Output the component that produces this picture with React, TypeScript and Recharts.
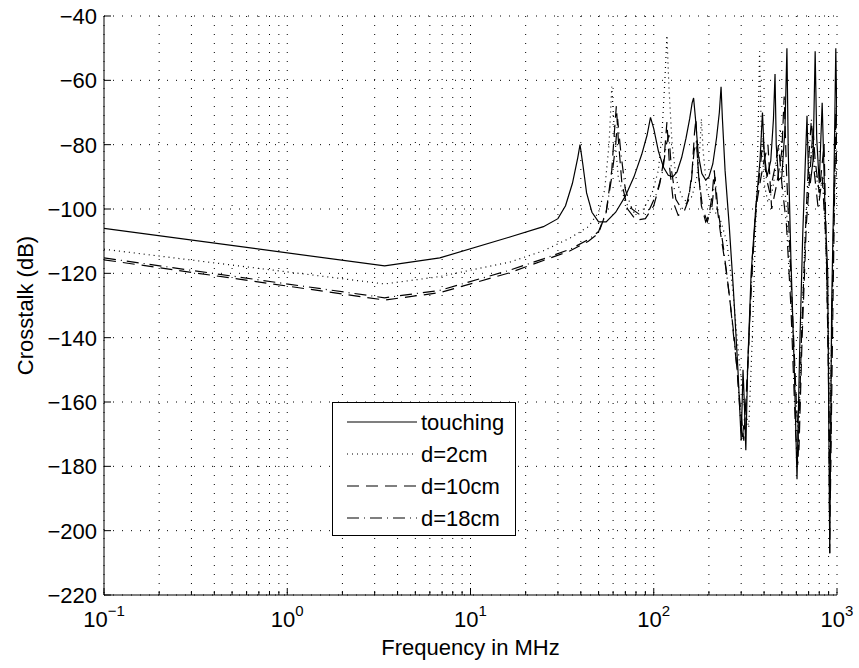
import { LineChart, Line, XAxis, YAxis, CartesianGrid, Legend } from 'recharts'

const FONT = '"Liberation Sans", Arial, Helvetica, sans-serif'
const FS = 22

// frequency in MHz / crosstalk in dB, one pair of arrays per cable spacing
const touchingFreq = [
  0.1, 3.4, 6.8, 16.4, 25, 30, 33, 36, 38.5, 39.6, 41, 43, 46, 50, 55, 62, 70, 78, 86, 92, 96, 100, 106, 113,
  120, 127, 134, 142, 150, 157, 162, 165, 169, 175, 183, 192, 200, 210, 220, 228, 233, 237, 245, 258, 272,
  288, 300, 307, 312, 318, 325, 340, 360, 380, 392, 400, 415, 435, 450, 459, 466, 480, 500, 520, 533, 542,
  560, 585, 605, 625, 650, 672, 686, 698, 715, 740, 760, 775, 800, 830, 860, 890, 913, 935, 960, 985, 1000,
]
const touchingDb = [
  -106, -117.7, -115.2, -108.7, -105.5, -103, -99, -92, -84, -80, -86, -95, -101, -104, -104, -101, -96, -90,
  -83, -77, -71.5, -75, -82, -87, -89.5, -90, -88.5, -84, -78, -72, -67, -65.5, -72, -83, -89, -91, -90, -86,
  -78, -70, -62, -72, -88, -105, -125, -150, -172, -150, -160, -175, -150, -120, -100, -85, -70, -82, -90,
  -85, -72, -58, -80, -91, -90, -75, -50, -82, -115, -150, -184, -145, -108, -85, -71, -88, -92, -85, -51,
  -78, -92, -67, -100, -120, -207, -130, -95, -50, -75,
]

const d2Freq = [
  0.1, 3.4, 6.8, 16.4, 25, 35, 44, 50, 54, 57, 59, 61, 64, 70, 78, 88, 98, 106, 111, 115, 118, 121, 126, 133,
  142, 152, 162, 172, 178, 182, 186, 195, 210, 230, 250, 270, 290, 310, 330, 345, 358, 370, 378, 386, 400,
  420, 445, 470, 490, 505, 530, 560, 590, 615, 640, 670, 700, 730, 760, 800, 840, 880, 920, 950, 980, 1000,
]
const d2Db = [
  -112.5, -123.3, -121, -116.5, -113, -109, -105.5, -101, -94, -80, -62, -76, -90, -98, -101, -100, -95, -88,
  -76, -60, -46, -62, -80, -91, -96, -98, -96, -90, -82, -72, -82, -94, -100, -103, -110, -125, -145, -160,
  -168, -140, -110, -80, -51, -75, -92, -98, -94, -85, -75, -85, -100, -125, -155, -170, -140, -108, -90,
  -80, -88, -95, -90, -120, -160, -120, -80, -100,
]

const d10Freq = [
  0.1, 3.4, 6.8, 16.4, 25, 35, 44, 50, 55, 59, 61, 62.5, 64, 67, 72, 80, 90, 100, 108, 114, 118, 122, 128,
  136, 146, 155, 162, 167, 170, 174, 182, 192, 200, 208, 214, 220, 232, 250, 275, 295, 310, 325, 345, 365,
  385, 400, 420, 440, 470, 500, 515, 530, 560, 600, 620, 645, 680, 710, 740, 760, 800, 850, 880, 920, 950,
  985, 1000,
]
const d10Db = [
  -115.8, -128.3, -126, -119.8, -116, -113, -110, -107.5, -101, -88, -76, -68, -78, -92, -100, -103.5, -103,
  -99, -92, -84, -73, -87, -98, -102, -101, -97, -88, -76, -72, -86, -99, -104, -102, -96, -88, -98, -108,
  -120, -140, -160, -172, -150, -115, -98, -90, -85, -80, -100, -92, -82, -65, -88, -120, -160, -175, -140,
  -105, -90, -75, -85, -95, -80, -120, -190, -130, -70, -90,
]

const d18Freq = [
  0.1, 3.4, 6.8, 16.4, 25, 35, 44, 50, 55, 59, 62, 63.5, 66, 70, 76, 85, 95, 104, 112, 117, 121, 125, 132,
  142, 152, 160, 166, 171, 176, 185, 196, 208, 216, 224, 240, 260, 285, 303, 320, 340, 360, 380, 395, 410,
  430, 455, 480, 500, 530, 560, 595, 612, 640, 680, 700, 725, 750, 790, 830, 870, 900, 913, 930, 960, 990,
  1000,
]
const d18Db = [
  -115.2, -127.6, -125.3, -119, -115.5, -112.5, -109.5, -107, -101, -90, -80, -72, -82, -94, -100, -102, -100,
  -95, -88, -80, -77, -88, -97, -100, -98, -92, -82, -79, -90, -100, -104, -99, -90, -100, -112, -128, -150,
  -172, -160, -125, -100, -88, -78, -90, -95, -88, -80, -92, -105, -130, -170, -180, -140, -100, -85, -72,
  -88, -100, -90, -110, -150, -207, -150, -100, -68, -85,
]

const seriesNames = ['touching', 'd=2cm', 'd=10cm', 'd=18cm']
const seriesDash = ['', '1 4', '12 7', '12 5 1 5']

const xTicks = [0.1, 1, 10, 100].flatMap((d) => [1, 2, 3, 4, 5, 6, 7, 8, 9].map((k) => d * k)).concat(1000)
const yTicks = [-220, -200, -180, -160, -140, -120, -100, -80, -60, -40]

const toRows = (f: number[], db: number[]) => f.map((v, i) => ({ f: v, db: db[i] }))
const series = [
  toRows(touchingFreq, touchingDb),
  toRows(d2Freq, d2Db),
  toRows(d10Freq, d10Db),
  toRows(d18Freq, d18Db),
]

const isDecade = (v: number) => Math.abs(Math.log10(v) - Math.round(Math.log10(v))) < 1e-6
const minus = (s: string) => s.replace('-', '\u2212')

function BottomTick(props: any) {
  const { x, y, payload } = props
  const major = isDecade(payload.value)
  const exp = Math.round(Math.log10(payload.value))
  return (
    <g>
      <line x1={x} x2={x} y1={y} y2={y - (major ? 7 : 4)} stroke="#000" />
      {major && (
        <text x={x} y={y + 32} textAnchor="middle" fontSize={FS} fontFamily={FONT} fill="#000">
          10
          <tspan dy={-11} fontSize={15}>
            {minus(String(exp))}
          </tspan>
        </text>
      )}
    </g>
  )
}

function TopTick(props: any) {
  const { x, y, payload } = props
  const major = isDecade(payload.value)
  return <line x1={x} x2={x} y1={y} y2={y + (major ? 7 : 4)} stroke="#000" />
}

function LeftTick(props: any) {
  const { x, y, payload } = props
  return (
    <g>
      <line x1={x} x2={x + 7} y1={y} y2={y} stroke="#000" />
      <text x={x - 7} y={y} dy="0.36em" textAnchor="end" fontSize={FS} fontFamily={FONT} fill="#000">
        {minus(String(payload.value))}
      </text>
    </g>
  )
}

function RightTick(props: any) {
  const { x, y } = props
  return <line x1={x} x2={x - 7} y1={y} y2={y} stroke="#000" />
}

function XTitle(props: any) {
  const { x, y, width } = props.viewBox
  return (
    <text x={x + width / 2} y={y + 60} textAnchor="middle" fontSize={FS} fontFamily={FONT} fill="#000">
      Frequency in MHz
    </text>
  )
}

function YTitle(props: any) {
  const { x, y, height } = props.viewBox
  const cx = x + 25
  const cy = y + height / 2
  return (
    <text
      x={cx}
      y={cy}
      transform={`rotate(-90 ${cx} ${cy})`}
      textAnchor="middle"
      dy="0.36em"
      fontSize={FS}
      fontFamily={FONT}
      fill="#000"
    >
      Crosstalk (dB)
    </text>
  )
}

function LegendBox() {
  return (
    <svg width={184} height={134} style={{ display: 'block' }}>
      <rect x={0.5} y={0.5} width={183} height={133} fill="#fff" stroke="#000" />
      {seriesNames.map((name, i) => (
        <g key={name}>
          <line
            x1={15}
            x2={85}
            y1={20 + i * 32}
            y2={20 + i * 32}
            stroke="#000"
            strokeWidth={1.2}
            strokeDasharray={seriesDash[i] || undefined}
          />
          <text x={89} y={20 + i * 32} dy="0.36em" fontSize={FS} fontFamily={FONT} fill="#000">
            {name}
          </text>
        </g>
      ))}
    </svg>
  )
}

export default function App() {
  return (
    <div style={{ position: 'absolute', left: 0, top: 0, width: 859, height: 668, background: '#fff' }}>
      <LineChart width={859} height={668} margin={{ top: 16, right: 22, bottom: 0, left: 0 }}>
        <CartesianGrid stroke="#000" strokeDasharray="1 8" strokeWidth={1} />
        <XAxis
          dataKey="f"
          type="number"
          scale="log"
          domain={[0.1, 1000]}
          allowDataOverflow
          ticks={xTicks}
          interval={0}
          height={73}
          tickSize={0}
          tickMargin={0}
          tickLine={false}
          axisLine={{ stroke: '#000' }}
          tick={<BottomTick />}
          label={<XTitle />}
        />
        <XAxis
          xAxisId="top"
          orientation="top"
          dataKey="f"
          type="number"
          scale="log"
          domain={[0.1, 1000]}
          allowDataOverflow
          ticks={xTicks}
          interval={0}
          height={0}
          tickSize={0}
          tickMargin={0}
          tickLine={false}
          axisLine={{ stroke: '#000' }}
          tick={<TopTick />}
        />
        <YAxis
          type="number"
          domain={[-220, -40]}
          allowDataOverflow
          ticks={yTicks}
          interval={0}
          width={104}
          tickSize={0}
          tickMargin={0}
          tickLine={false}
          axisLine={{ stroke: '#000' }}
          tick={<LeftTick />}
          label={<YTitle />}
        />
        <YAxis
          yAxisId="right"
          orientation="right"
          type="number"
          domain={[-220, -40]}
          allowDataOverflow
          ticks={yTicks}
          interval={0}
          width={0}
          tickSize={0}
          tickMargin={0}
          tickLine={false}
          axisLine={{ stroke: '#000' }}
          tick={<RightTick />}
        />
        {series.map((rows, i) => (
          <Line
            key={seriesNames[i]}
            data={rows}
            dataKey="db"
            name={seriesNames[i]}
            type="linear"
            stroke="#000"
            strokeWidth={1.2}
            strokeDasharray={seriesDash[i] || undefined}
            dot={false}
            activeDot={false}
            isAnimationActive={false}
          />
        ))}
        <Legend
          layout="vertical"
          align="center"
          verticalAlign="middle"
          wrapperStyle={{ left: 332, top: 402, width: 184, height: 134 }}
          content={<LegendBox />}
        />
      </LineChart>
    </div>
  )
}
